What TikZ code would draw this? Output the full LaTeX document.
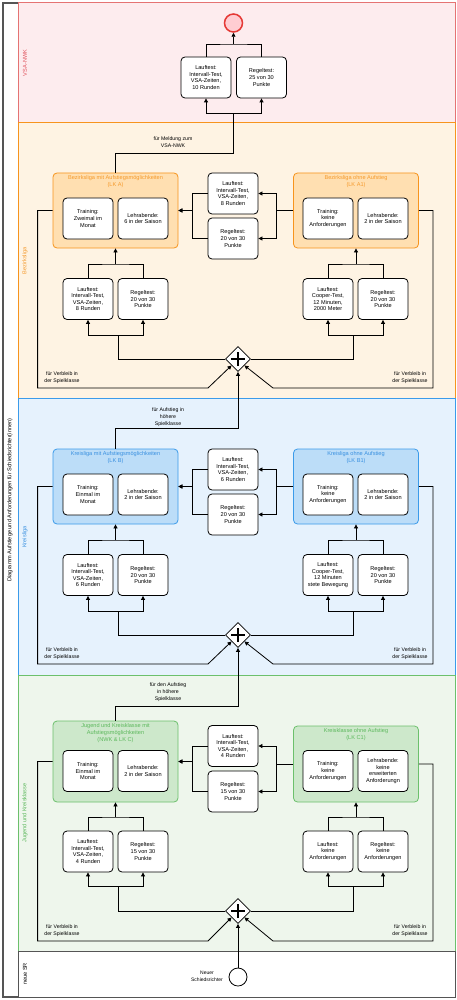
\documentclass[tikz,border=0pt]{standalone}
\usepackage{fontspec}
\setmainfont{Liberation Sans}
\usetikzlibrary{arrows.meta,shapes.geometric}
\definecolor{vsaF}{HTML}{FDECEE}
\definecolor{vsaD}{HTML}{E57373}
\definecolor{vsaT}{HTML}{E0505A}
\definecolor{bzF}{HTML}{FEF3E3}
\definecolor{bzD}{HTML}{F7941D}
\definecolor{bzG}{HTML}{FFDFB1}
\definecolor{bzT}{HTML}{F59A2C}
\definecolor{klF}{HTML}{E6F2FD}
\definecolor{klD}{HTML}{3B9BEA}
\definecolor{klG}{HTML}{BCDDF8}
\definecolor{klT}{HTML}{3990E0}
\definecolor{jgF}{HTML}{EEF6EC}
\definecolor{jgD}{HTML}{6CC06C}
\definecolor{jgG}{HTML}{CDE8CB}
\definecolor{jgT}{HTML}{5CB85C}
\definecolor{poolD}{HTML}{555555}
\definecolor{endF}{HTML}{FFCDD2}
\definecolor{endD}{HTML}{E53935}
\tikzset{
 box/.style={draw=black, fill=white, rounded corners=4pt, minimum width=50pt, minimum height=41pt, inner sep=1pt, align=center, line width=0.8pt},
 grp/.style={rounded corners=4pt, minimum width=125pt, minimum height=75pt, line width=0.8pt},
 gtitle/.style={anchor=north, align=center, inner sep=0pt},
 conn/.style={line width=0.8pt, draw=black},
 arr/.style={conn, -{Triangle[length=4pt,width=4pt]}},
 elabel/.style={align=center, font=\fontsize{5.2}{6.8}\selectfont, inner sep=0pt},
 lanelbl/.style={rotate=90, inner sep=0pt},
 gw/.style={diamond, draw=black, fill=white, minimum width=25pt, minimum height=25pt, inner sep=0pt, line width=0.8pt},
 plus/.style={line width=2.8pt, draw=black},
}
\begin{document}
\begin{tikzpicture}[x=1pt,y=-1pt,font=\fontsize{5.6}{6.6}\selectfont]
\useasboundingbox (0,0) rectangle (457,1000);
% pool and lanes
\draw[poolD, line width=1.5pt, fill=white] (3,3) rectangle (455,997);
\draw[vsaD, fill=vsaF, line width=1pt] (18,3) rectangle (455,123);
\draw[bzD, fill=bzF, line width=1pt] (18,123) rectangle (455,398);
\draw[klD, fill=klF, line width=1pt] (18,398) rectangle (455,675);
\draw[jgD, fill=jgF, line width=1pt] (18,675) rectangle (455,951);
\draw[poolD, fill=white, line width=1pt] (18,951) rectangle (455,997);
\node[lanelbl] (pool) at (10,500) {Diagramm Aufstiege und Anforderungen für Schiedsrichter(innen)};
\node[lanelbl, text=vsaT] (lane1) at (25,63) {VSA-NWK};
\node[lanelbl, text=bzT] (lane2) at (25,261) {Bezirksliga};
\node[lanelbl, text=klT] (lane3) at (25,537) {Kreisliga};
\node[lanelbl, text=jgT] (lane4) at (25,813) {Jugend und Kreisklasse};
\node[lanelbl] (lane5) at (25,974) {neue SR};

% ---------- VSA-NWK ----------
\node[circle, draw=endD, fill=endF, line width=1.5pt, minimum size=18pt, inner sep=0pt] (endE) at (233.5,23) {};
\node[box] (vL) at (206,77.5) {Lauftest:\\Intervall-Test,\\VSA-Zeiten,\\10 Runden};
\node[box] (vR) at (261.5,77.5) {Regeltest:\\25 von 30\\Punkte};
\coordinate (vT) at (233.5,44);
\coordinate (vJ) at (233.5,113);
\draw[conn] (vL.north) |- (vT) -| (vR.north);
\draw[arr] (vT) -- (endE.south);
\draw[arr] (vJ) -| (vL.south);
\draw[arr] (vJ) -| (vR.south);

% ---------- Bezirksliga ----------
\node[grp, draw=bzD, fill=bzG] (gA) at (115.5,210.5) {};
\node[gtitle, text=bzT, yshift=-3pt] (tA) at (gA.north) {Bezirksliga mit Aufstiegsmöglichkeiten\\(LK A)};
\node[box] (aT) at (88,218.5) {Training:\\Zweimal im\\Monat};
\node[box] (aL) at (143,218.5) {Lehrabende:\\6 in der Saison};
\node[grp, draw=bzD, fill=bzG] (gA1) at (356,210.5) {};
\node[gtitle, text=bzT, yshift=-3pt] (tA1) at (gA1.north) {Bezirksliga ohne Aufstieg\\(LK A1)};
\node[box] (a1T) at (328,218.5) {Training:\\keine\\Anforderungen};
\node[box] (a1L) at (383,218.5) {Lehrabende:\\2 in der Saison};
\node[box] (mAl) at (233,193.5) {Lauftest:\\Intervall-Test,\\VSA-Zeiten,\\8 Runden};
\node[box] (mAr) at (233,238.5) {Regeltest:\\20 von 30\\Punkte};
\node[box] (bAl) at (88,299) {Lauftest:\\Intervall-Test,\\VSA-Zeiten,\\8 Runden};
\node[box] (bAr) at (143,299) {Regeltest:\\20 von 30\\Punkte};
\node[box] (bA1l) at (328,299) {Lauftest:\\Cooper-Test,\\12 Minuten,\\2000 Meter};
\node[box] (bA1r) at (383,299) {Regeltest:\\20 von 30\\Punkte};
\node[gw] (gwA) at (238,359) {};
\draw[plus] ([xshift=-7pt]gwA.center) -- ([xshift=7pt]gwA.center);
\draw[plus] ([yshift=-7pt]gwA.center) -- ([yshift=7pt]gwA.center);

\draw[conn] (gA.north) |- (233.5,153) -- (vJ);
\node[elabel] (lMel) at (173,142.5) {für Meldung zum\\VSA-NWK};
\draw[arr] (gA1.west) -- ++(-17,0) |- (mAl.east);
\draw[arr] (gA1.west) -- ++(-17,0) |- (mAr.east);
\draw[arr] (mAl.west) -- ++(-15,0) |- (gA.east);
\draw[arr] (mAr.west) -- ++(-15,0) |- (gA.east);
\draw[arr] (gA.west) -- ++(-15,0) |- (208,388) -- (gwA.south west);
\draw[arr] (gA1.east) -- ++(14,0) |- (273,388) -- (gwA.south east);
\node[elabel] (lA1) at (62,378) {für Verbleib in\\der Spielklasse};
\node[elabel] (lA2) at (410,378) {für Verbleib in\\der Spielklasse};
\coordinate (jAl) at (118,335);
\coordinate (jAr) at (353,335);
\draw[conn] (gwA.west) -| (jAl);
\draw[arr] (jAl) -| (bAl.south);
\draw[arr] (jAl) -| (bAr.south);
\draw[conn] (gwA.east) -| (jAr);
\draw[arr] (jAr) -| (bA1l.south);
\draw[arr] (jAr) -| (bA1r.south);
\coordinate (kAl) at (115.5,264);
\coordinate (kAr) at (356,264);
\draw[conn] (bAl.north) |- (kAl) -| (bAr.north);
\draw[arr] (kAl) -- (gA.south);
\draw[conn] (bA1l.north) |- (kAr) -| (bA1r.north);
\draw[arr] (kAr) -- (gA1.south);

% ---------- Kreisliga ----------
\node[grp, draw=klD, fill=klG] (gB) at (115.5,486.5) {};
\node[gtitle, text=klT, yshift=-3pt] (tB) at (gB.north) {Kreisliga mit Aufstiegsmöglichkeiten\\(LK B)};
\node[box] (bT) at (88,494.5) {Training:\\Einmal im\\Monat};
\node[box] (bL) at (143,494.5) {Lehrabende:\\2 in der Saison};
\node[grp, draw=klD, fill=klG] (gB1) at (356,486.5) {};
\node[gtitle, text=klT, yshift=-3pt] (tB1) at (gB1.north) {Kreisliga ohne Aufstieg\\(LK B1)};
\node[box] (b1T) at (328,494.5) {Training:\\keine\\Anforderungen};
\node[box] (b1L) at (383,494.5) {Lehrabende:\\2 in der Saison};
\node[box] (mBl) at (233,469.5) {Lauftest:\\Intervall-Test,\\VSA-Zeiten,\\6 Runden};
\node[box] (mBr) at (233,514.5) {Regeltest:\\20 von 30\\Punkte};
\node[box] (bBl) at (88,575) {Lauftest:\\Intervall-Test,\\VSA-Zeiten,\\6 Runden};
\node[box] (bBr) at (143,575) {Regeltest:\\20 von 30\\Punkte};
\node[box] (bB1l) at (328,575) {Lauftest:\\Cooper-Test,\\12 Minuten\\stete Bewegung};
\node[box] (bB1r) at (383,575) {Regeltest:\\20 von 30\\Punkte};
\node[gw] (gwB) at (238,635) {};
\draw[plus] ([xshift=-7pt]gwB.center) -- ([xshift=7pt]gwB.center);
\draw[plus] ([yshift=-7pt]gwB.center) -- ([yshift=7pt]gwB.center);

\draw[arr] (gB.north) |- (238,428) -- (gwA.south);
\node[elabel] (lAuf1) at (168,417) {für Aufstieg in\\höhere\\Spielklasse};
\draw[arr] (gB1.west) -- ++(-17,0) |- (mBl.east);
\draw[arr] (gB1.west) -- ++(-17,0) |- (mBr.east);
\draw[arr] (mBl.west) -- ++(-15,0) |- (gB.east);
\draw[arr] (mBr.west) -- ++(-15,0) |- (gB.east);
\draw[arr] (gB.west) -- ++(-15,0) |- (208,664) -- (gwB.south west);
\draw[arr] (gB1.east) -- ++(14,0) |- (273,664) -- (gwB.south east);
\node[elabel] (lB1) at (62,654) {für Verbleib in\\der Spielklasse};
\node[elabel] (lB2) at (410,654) {für Verbleib in\\der Spielklasse};
\coordinate (jBl) at (118,611);
\coordinate (jBr) at (353,611);
\draw[conn] (gwB.west) -| (jBl);
\draw[arr] (jBl) -| (bBl.south);
\draw[arr] (jBl) -| (bBr.south);
\draw[conn] (gwB.east) -| (jBr);
\draw[arr] (jBr) -| (bB1l.south);
\draw[arr] (jBr) -| (bB1r.south);
\coordinate (kBl) at (115.5,540);
\coordinate (kBr) at (356,540);
\draw[conn] (bBl.north) |- (kBl) -| (bBr.north);
\draw[arr] (kBl) -- (gB.south);
\draw[conn] (bB1l.north) |- (kBr) -| (bB1r.north);
\draw[arr] (kBr) -- (gB1.south);

% ---------- Jugend und Kreisklasse ----------
\node[grp, draw=jgD, fill=jgG, minimum height=81pt] (gC) at (115.5,761.5) {};
\node[gtitle, text=jgT, yshift=-3pt] (tC) at (gC.north) {Jugend und Kreisklasse mit\\Aufstiegsmöglichkeiten\\(NWK \& LK C)};
\node[box] (cT) at (88,771) {Training:\\Einmal im\\Monat};
\node[box] (cL) at (143,771) {Lehrabende:\\2 in der Saison};
\node[grp, draw=jgD, fill=jgG, minimum height=76pt] (gC1) at (356,764) {};
\node[gtitle, text=jgT, yshift=-3pt] (tC1) at (gC1.north) {Kreisklasse ohne Aufstieg\\(LK C1)};
\node[box] (c1T) at (328,771) {Training:\\keine\\Anforderungen};
\node[box] (c1L) at (383,771) {Lehrabende:\\keine\\erweiterten\\Anforderungn};
\node[box] (mCl) at (233,746) {Lauftest:\\Intervall-Test,\\VSA-Zeiten,\\4 Runden};
\node[box] (mCr) at (233,791.5) {Regeltest:\\15 von 30\\Punkte};
\node[box] (bCl) at (88,851.5) {Lauftest:\\Intervall-Test,\\VSA-Zeiten,\\4 Runden};
\node[box] (bCr) at (143,851.5) {Regeltest:\\15 von 30\\Punkte};
\node[box] (bC1l) at (328,851.5) {Lauftest:\\keine\\Anforderungen};
\node[box] (bC1r) at (383,851.5) {Regeltest:\\keine\\Anforderungen};
\node[gw] (gwC) at (238,911) {};
\draw[plus] ([xshift=-7pt]gwC.center) -- ([xshift=7pt]gwC.center);
\draw[plus] ([yshift=-7pt]gwC.center) -- ([yshift=7pt]gwC.center);

\draw[arr] (gC.north) |- (238,706) -- (gwB.south);
\node[elabel] (lAuf2) at (168,692) {für den Aufstieg\\in höhere\\Spielklasse};
\draw[arr] (gC1.west) -- ++(-17,0) |- (mCl.east);
\draw[arr] (gC1.west) -- ++(-17,0) |- (mCr.east);
\draw[arr] (mCl.west) -- ++(-15,0) |- (gC.east);
\draw[arr] (mCr.west) -- ++(-15,0) |- (gC.east);
\draw[arr] (gC.west) -- ++(-15,0) |- (208,941) -- (gwC.south west);
\draw[arr] (gC1.east) -- ++(14,0) |- (273,941) -- (gwC.south east);
\node[elabel] (lC1) at (62,931) {für Verbleib in\\der Spielklasse};
\node[elabel] (lC2) at (410,931) {für Verbleib in\\der Spielklasse};
\coordinate (jCl) at (118,886);
\coordinate (jCr) at (353,886);
\draw[conn] (gwC.west) -| (jCl);
\draw[arr] (jCl) -| (bCl.south);
\draw[arr] (jCl) -| (bCr.south);
\draw[conn] (gwC.east) -| (jCr);
\draw[arr] (jCr) -| (bC1l.south);
\draw[arr] (jCr) -| (bC1r.south);
\coordinate (kCl) at (115.5,817);
\coordinate (kCr) at (356,817);
\draw[conn] (bCl.north) |- (kCl) -| (bCr.north);
\draw[arr] (kCl) -- (gC.south);
\draw[conn] (bC1l.north) |- (kCr) -| (bC1r.north);
\draw[arr] (kCr) -- (gC1.south);

% ---------- neue SR ----------
\node[circle, draw=black, fill=white, line width=0.8pt, minimum size=18pt, inner sep=0pt] (startS) at (238,977) {};
\node[elabel, font=\fontsize{5}{6.6}\selectfont] (lStart) at (207,976.5) {Neuer\\Schiedsrichter};
\draw[arr] (startS.north) -- (gwC.south);
\end{tikzpicture}
\end{document}
